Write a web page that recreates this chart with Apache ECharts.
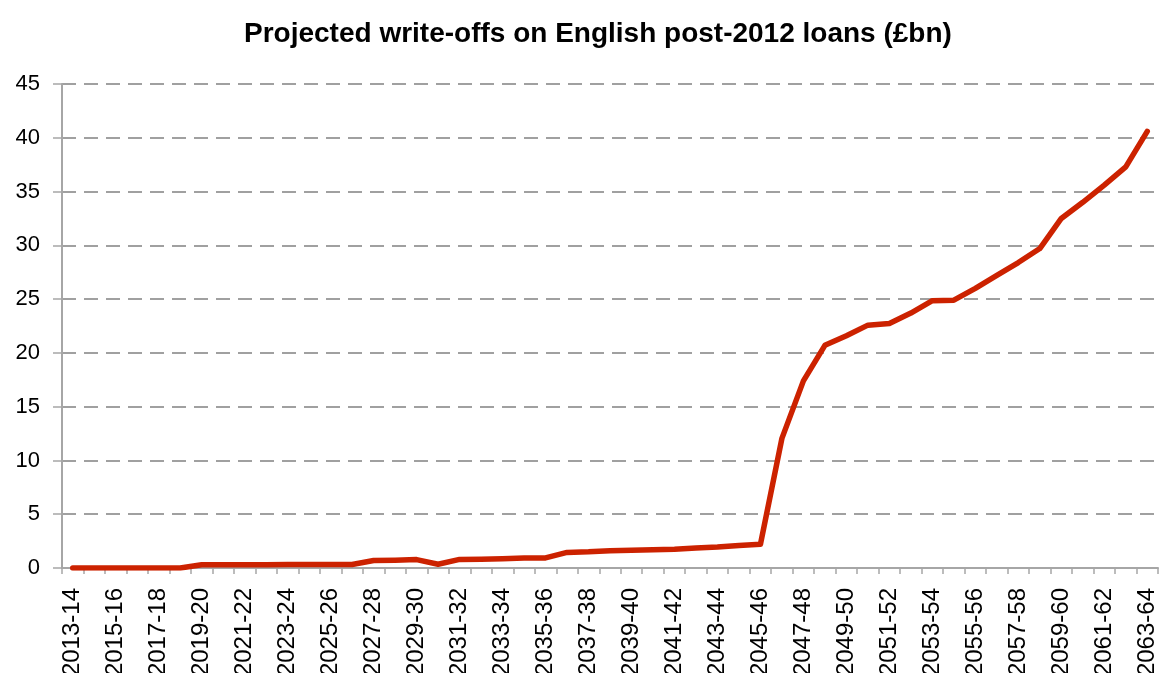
<!DOCTYPE html>
<html>
<head>
<meta charset="utf-8">
<script src="https://cdn.jsdelivr.net/npm/echarts@6/dist/echarts.min.js"></script>
<style>html,body{margin:0;padding:0;background:#fff}#c{width:1161px;height:673px}</style>
</head>
<body>
<div id="c"></div>
<script>
const titleText = "Projected write-offs on English post-2012 loans (£bn)";
const startYears = [];
for (let y = 2013; y <= 2063; y++) startYears.push(y);
const categories = startYears.map(y => y + "-" + String((y + 1) % 100).padStart(2, "0"));
const writeOffs = [
  0, 0, 0, 0, 0, 0, 0.3, 0.3, 0.3, 0.3,
  0.32, 0.33, 0.33, 0.33, 0.7, 0.72, 0.78, 0.35, 0.8, 0.82,
  0.87, 0.92, 0.94, 1.45, 1.5, 1.6, 1.65, 1.7, 1.75, 1.85,
  1.95, 2.1, 2.2, 12.05, 17.4, 20.7, 21.6, 22.58, 22.74, 23.7,
  24.85, 24.9, 26.0, 27.2, 28.4, 29.7, 32.5, 34.0, 35.6, 37.3,
  40.6
];
const yTicks = { min: 0, max: 45, interval: 5 };

const chart = echarts.init(document.getElementById('c'), null, { renderer: 'canvas' });
chart.setOption({
  animation: false,
  backgroundColor: '#fff',
  title: {
    text: titleText,
    left: 239,
    top: 15,
    textStyle: { fontFamily: 'Liberation Sans', fontWeight: 'bold', fontSize: 28, color: '#000' }
  },
  grid: { left: 62, right: 3, top: 84, bottom: 105, containLabel: false, outerBoundsMode: 'none' },
  xAxis: {
    type: 'category',
    data: categories,
    boundaryGap: true,
    axisLine: { lineStyle: { color: '#a6a6a6', width: 2 } },
    axisTick: { show: true, interval: 0, length: 6, lineStyle: { color: '#a6a6a6', width: 1.5 } },
    axisLabel: {
      interval: 1,
      rotate: 90,
      margin: 20,
      fontFamily: 'Liberation Sans',
      fontSize: 24,
      color: '#000'
    },
    splitLine: { show: false }
  },
  yAxis: {
    type: 'value',
    min: yTicks.min,
    max: yTicks.max,
    interval: yTicks.interval,
    axisLine: { show: true, lineStyle: { color: '#a6a6a6', width: 2 } },
    axisTick: { show: true, length: 9, lineStyle: { color: '#a6a6a6', width: 1.5 } },
    axisLabel: { margin: 22, fontFamily: 'Liberation Sans', fontSize: 22, color: '#000' },
    splitLine: { show: true, lineStyle: { color: '#a0a0a0', width: 2, type: [14, 8] } }
  },
  series: [{
    type: 'line',
    data: writeOffs,
    symbol: 'none',
    lineStyle: { color: '#cc2200', width: 5.5, join: 'round', cap: 'round' },
    z: 3
  }]
});
</script>
</body>
</html>
